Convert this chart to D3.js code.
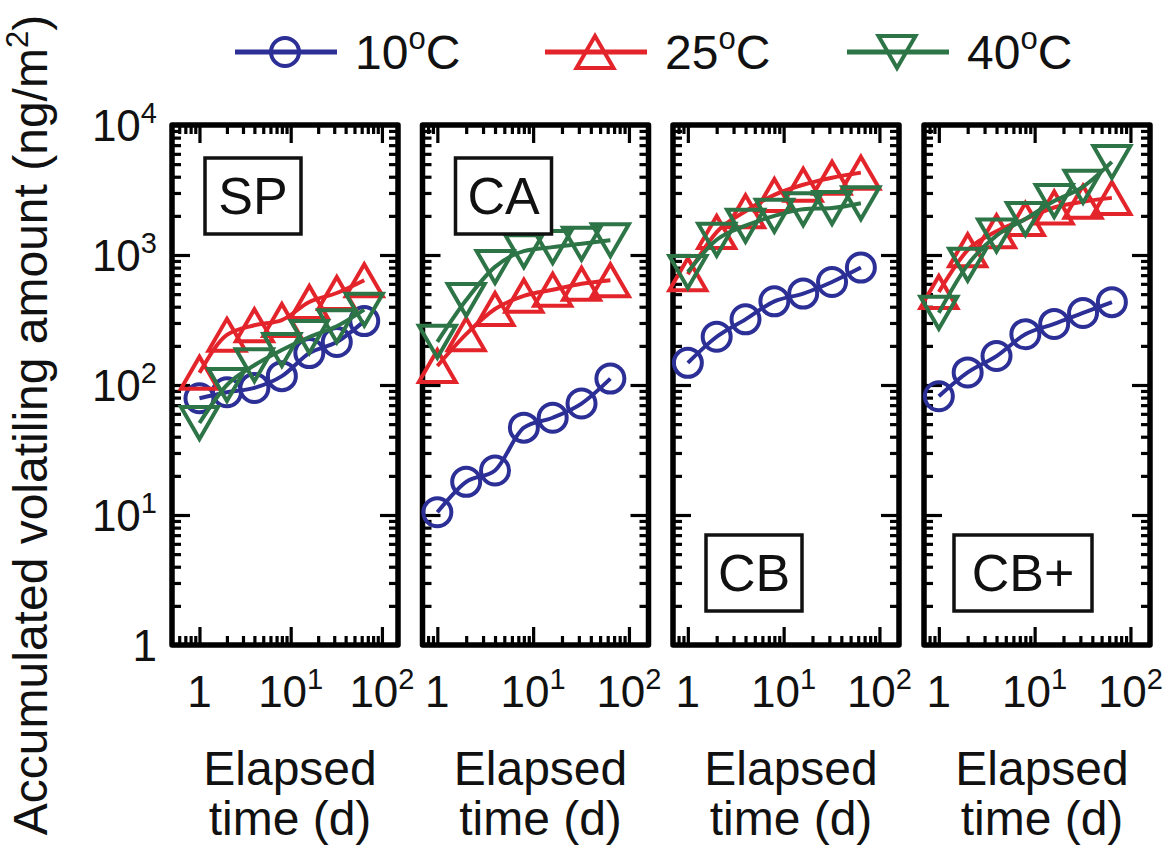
<!DOCTYPE html>
<html><head><meta charset="utf-8">
<script src="https://cdn.jsdelivr.net/npm/d3@7"></script>
<style>body{margin:0;background:#fff} text{font-family:"Liberation Sans",Arial,sans-serif;fill:#111}</style>
</head><body><svg id="c" width="1172" height="847"></svg>
<script>
// ---------- data ----------
const categories = ["SP", "CA", "CB", "CB+"];
const temperatures = ["10", "25", "40"];
const days = [1, 2, 4, 8, 16, 32, 64];
const SP_10 = [79, 88, 95, 117, 176, 214, 310];
const SP_25 = [124, 243, 288, 316, 435, 510, 640];
const SP_40 = [51, 100, 142, 186, 234, 283, 380];
const CA_10 = [10.5, 18, 22, 47, 56, 72, 112];
const CA_25 = [140, 246, 384, 485, 540, 600, 640];
const CA_40 = [215, 450, 810, 1070, 1150, 1220, 1300];
const CB_10 = [148, 235, 320, 440, 505, 620, 800];
const CB_25 = [710, 1500, 2170, 2900, 3470, 3930, 4300];
const CB_40 = [740, 1310, 1680, 2000, 2250, 2300, 2500];
const CBp_10 = [82, 125, 167, 246, 295, 358, 434];
const CBp_25 = [520, 1090, 1520, 1890, 2320, 2570, 2750];
const CBp_40 = [360, 840, 1410, 1890, 2600, 3350, 5200];
const yTickValues = [1, 10, 100, 1000, 10000];
const yTickLabels = [["1", ""], ["10", "1"], ["10", "2"], ["10", "3"], ["10", "4"]];
const xTickValues = [1, 10, 100];
const xTickLabels = [["1", ""], ["10", "1"], ["10", "2"]];
const yTitle = ["Accumulated volatiling amount (ng/m", "2", ")"];
const xTitle = ["Elapsed", "time (d)"];

const panelSeries = [[SP_10, SP_25, SP_40], [CA_10, CA_25, CA_40], [CB_10, CB_25, CB_40], [CBp_10, CBp_25, CBp_40]];

// ---------- layout / style ----------
const colors = ["#2c2f96", "#e3252b", "#2d7446"];
const shapes = ["circle", "up", "down"];
const panelLeft = [172, 422.5, 673, 924];
const panelW = 226;
const plotTop = 125, plotBottom = 645;
const xDomains = [[0.5, 150], [0.7, 160], [0.7, 160], [0.7, 160]];
const labelPos = ["top", "top", "bottom", "bottom"];

const svg = d3.select("#c");
const y = d3.scaleLog().domain([1, 10000]).range([plotBottom, plotTop]);

function minorTicks(lo, hi) {
  const out = [];
  for (let e = -2; e <= 5; e++) {
    for (let k = 2; k <= 9; k++) {
      const v = k * Math.pow(10, e);
      if (v > lo * 1.0001 && v < hi * 0.9999) out.push(v);
    }
  }
  return out;
}

function marker(g, shape, color) {
  if (shape === "circle") {
    g.append("circle").attr("r", 14).attr("fill", "none").attr("stroke", color).attr("stroke-width", 4);
  } else {
    const s = 37, h = 32;
    const d = shape === "up"
      ? `M0,${-h / 2}L${s / 2},${h / 2}L${-s / 2},${h / 2}Z`
      : `M0,${h / 2}L${s / 2},${-h / 2}L${-s / 2},${-h / 2}Z`;
    g.append("path").attr("d", d).attr("fill", "none").attr("stroke", color)
      .attr("stroke-width", 4).attr("stroke-linejoin", "miter");
  }
}

function supLabel(sel, base, sup, fs) {
  sel.append("tspan").text(base);
  if (sup) sel.append("tspan").attr("dy", -0.42 * fs).attr("font-size", fs * 0.66).text(sup);
}

categories.forEach((cat, p) => {
  const x0 = panelLeft[p], x1 = x0 + panelW;
  const x = d3.scaleLog().domain(xDomains[p]).range([x0, x1]);
  const g = svg.append("g");

  const xMinor = minorTicks(xDomains[p][0], xDomains[p][1]);
  const yMinor = minorTicks(1, 10000);
  const axes = [
    [d3.axisBottom(x), `translate(0,${plotBottom})`, xTickValues, xMinor],
    [d3.axisTop(x), `translate(0,${plotTop})`, xTickValues, xMinor],
    [d3.axisLeft(y), `translate(${x0},0)`, yTickValues, yMinor],
    [d3.axisRight(y), `translate(${x1},0)`, yTickValues, yMinor]
  ];
  axes.forEach(([ax, tr, maj, min]) => {
    const a1 = g.append("g").attr("transform", tr)
      .call(ax.tickValues(maj).tickSize(-18).tickFormat(""));
    a1.select(".domain").remove();
    a1.selectAll("line").attr("stroke", "#000").attr("stroke-width", 3.2);
    const a2 = g.append("g").attr("transform", tr)
      .call(ax.tickValues(min).tickSize(-9).tickFormat(""));
    a2.select(".domain").remove();
    a2.selectAll("line").attr("stroke", "#000").attr("stroke-width", 3.2);
  });

  g.append("rect").attr("x", x0).attr("y", plotTop).attr("width", panelW).attr("height", plotBottom - plotTop)
    .attr("fill", "none").attr("stroke", "#000").attr("stroke-width", 5.5).attr("stroke-linejoin", "round");

  const clipId = "clip" + p;
  svg.append("clipPath").attr("id", clipId).append("rect")
    .attr("x", x0 - 20).attr("y", plotTop).attr("width", panelW + 25).attr("height", plotBottom - plotTop);
  const data = panelSeries[p];
  data.forEach((vals, s) => {
    const pts = days.map((d, i) => [x(d), y(vals[i])]);
    const sg = g.append("g").attr("clip-path", `url(#${clipId})`);
    sg.append("path").attr("d", d3.line().curve(d3.curveMonotoneX)(pts))
      .attr("fill", "none").attr("stroke", colors[s]).attr("stroke-width", 4);
    pts.forEach(pt => {
      const mg = sg.append("g").attr("transform", `translate(${pt[0]},${pt[1]})`);
      marker(mg, shapes[s], colors[s]);
    });
  });

  const bw = cat.length > 2 ? 138 : 96, bh = 76;
  const bx = x0 + (cat.length > 2 ? 30 : 33);
  const by = labelPos[p] === "top" ? 158 : 535;
  g.append("rect").attr("x", bx).attr("y", by).attr("width", bw).attr("height", bh)
    .attr("fill", "#fff").attr("stroke", "#111").attr("stroke-width", 3.5);
  g.append("text").attr("x", bx + bw / 2).attr("y", by + bh / 2 + 18)
    .attr("text-anchor", "middle").attr("font-size", 52).text(cat);

  xTickValues.forEach((v, i) => {
    const t = g.append("text").attr("x", x(v)).attr("y", 707).attr("text-anchor", "middle").attr("font-size", 44);
    supLabel(t, xTickLabels[i][0], xTickLabels[i][1], 44);
  });

  xTitle.forEach((line, i) => {
    g.append("text").attr("x", x0 + panelW / 2 + 5).attr("y", 785 + i * 50)
      .attr("text-anchor", "middle").attr("font-size", 48).text(line);
  });

  if (p === 0) {
    yTickValues.forEach((v, i) => {
      const t = g.append("text").attr("x", 157).attr("y", y(v) + 16).attr("text-anchor", "end").attr("font-size", 44);
      supLabel(t, yTickLabels[i][0], yTickLabels[i][1], 44);
    });
  }
});

const yt = svg.append("text").attr("transform", "translate(47,425) rotate(-90)")
  .attr("text-anchor", "middle").attr("font-size", 48);
yt.append("tspan").text(yTitle[0]);
yt.append("tspan").attr("dy", -19).attr("font-size", 31).text(yTitle[1]);
yt.append("tspan").attr("dy", 19).text(yTitle[2]);

const legX = [285, 595, 897];
const legY = 52;
temperatures.forEach((t, i) => {
  const lg = svg.append("g");
  lg.append("line").attr("x1", legX[i] - 50).attr("x2", legX[i] + 52).attr("y1", legY).attr("y2", legY)
    .attr("stroke", colors[i]).attr("stroke-width", 5);
  const mg = lg.append("g").attr("transform", `translate(${legX[i]},${legY})`);
  marker(mg, shapes[i], colors[i]);
  const tx = lg.append("text").attr("x", legX[i] + 70).attr("y", legY + 17).attr("font-size", 48);
  tx.append("tspan").text(t);
  tx.append("tspan").attr("dy", -20).attr("font-size", 31).text("o");
  tx.append("tspan").attr("dy", 20).text("C");
});
</script></body></html>
